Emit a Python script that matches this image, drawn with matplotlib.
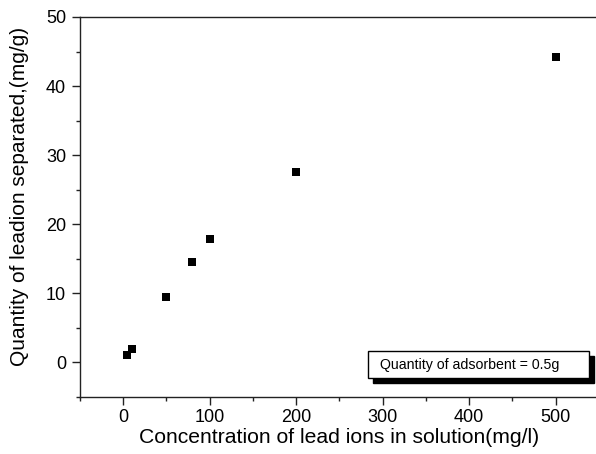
import matplotlib
matplotlib.use("Agg")
import matplotlib.pyplot as plt
from matplotlib.ticker import MultipleLocator
from matplotlib.patches import Rectangle

# concentration of lead ions (mg/l) vs quantity separated (mg/g)
conc = [5, 10, 50, 80, 100, 200, 500]
qty = [1.1, 2.0, 9.4, 14.6, 17.8, 27.6, 44.2]

plt.rcParams["font.family"] = ["Liberation Sans", "DejaVu Sans"]

fig = plt.figure(figsize=(5.96, 4.54), dpi=100)
ax = fig.add_axes([0.134, 0.1256, 0.871, 0.837])

ax.scatter(conc, qty, marker="s", s=40, color="black", zorder=3, linewidths=0)

ax.set_xlim(-50, 550)
ax.set_ylim(-5, 50)
ax.xaxis.set_major_locator(MultipleLocator(100))
ax.xaxis.set_minor_locator(MultipleLocator(50))
ax.yaxis.set_major_locator(MultipleLocator(10))
ax.yaxis.set_minor_locator(MultipleLocator(5))

for s in ax.spines.values():
    s.set_linewidth(1.0)
    s.set_color("#222222")
ax.spines["right"].set_visible(False)

ax.tick_params(which="major", direction="out", length=5.5, width=1, labelsize=13,
               top=False, right=False, color="#222222")
ax.tick_params(axis="y", which="major", pad=4.5)
ax.tick_params(which="minor", direction="out", length=3, width=1, top=False, right=False,
               color="#222222")

ax.set_xlabel("Concentration of lead ions in solution(mg/l)", fontsize=15.2, labelpad=1)
ax.set_ylabel("Quantity of leadion separated,(mg/g)", fontsize=15)
ax.yaxis.set_label_coords(-0.098, 0.528)

# annotation box with solid shadow
bx0, by0, bw, bh = 368 / 596, (454 - 378) / 454, 221 / 596, 27 / 454
shadow = Rectangle((bx0 + 5 / 596, by0 - 5 / 454), bw, bh, transform=fig.transFigure,
                   facecolor="black", edgecolor="black", zorder=4)
box = Rectangle((bx0, by0), bw, bh, transform=fig.transFigure,
                facecolor="white", edgecolor="black", linewidth=1, zorder=5)
fig.patches.extend([shadow, box])
fig.text(bx0 + 12 / 596, by0 + bh / 2, "Quantity of adsorbent = 0.5g", fontsize=10.2,
         va="center", ha="left", zorder=6)

fig.savefig("out.png", dpi=100)
